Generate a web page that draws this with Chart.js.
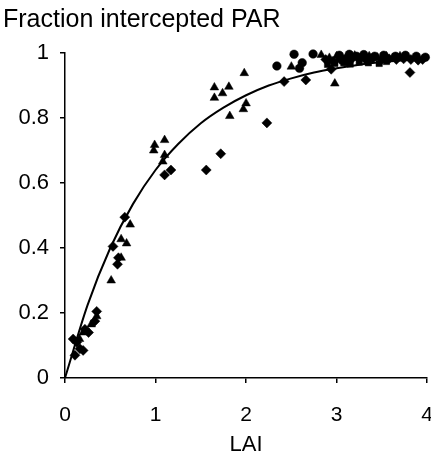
<!DOCTYPE html>
<html>
<head>
<meta charset="utf-8">
<script src="https://cdn.jsdelivr.net/npm/chart.js@4.4.0/dist/chart.umd.min.js"></script>
<style>
    html, body { margin: 0; padding: 0; background: #fff; overflow: hidden; }
    #caixa { width: 453px; height: 461px; }
</style>
</head>
<body>
<div id="caixa"><canvas id="graficoPAR"></canvas></div>
<script>

// LAI x fraction of intercepted PAR, one list per marker
const losangos = [
    [0.09, 0.12], [0.11, 0.07], [0.13, 0.11], [0.165, 0.09], [0.2, 0.085],
    [0.22, 0.15], [0.26, 0.14], [0.33, 0.175], [0.35, 0.205],
    [0.53, 0.405], [0.58, 0.35], [0.59, 0.37], [0.66, 0.495],
    [1.10, 0.625], [1.17, 0.64], [1.56, 0.64], [1.72, 0.69],
    [2.23, 0.785], [2.42, 0.912], [2.66, 0.917], [2.94, 0.95], [3.81, 0.94],
    [2.88, 0.98], [2.96, 0.975], [3.04, 0.98], [3.10, 0.983], [3.16, 0.98],
    [3.24, 0.985], [3.32, 0.98], [3.40, 0.983], [3.50, 0.98], [3.58, 0.982],
    [3.66, 0.98], [3.74, 0.982], [3.82, 0.98], [3.90, 0.978], [3.95, 0.98]
];

const triangulos = [
    [0.16, 0.12], [0.20, 0.14], [0.29, 0.165], [0.35, 0.19],
    [0.51, 0.30], [0.62, 0.37], [0.62, 0.427], [0.68, 0.414], [0.72, 0.472],
    [0.98, 0.70], [0.99, 0.717], [1.10, 0.732], [1.10, 0.686], [1.08, 0.666],
    [1.65, 0.894], [1.81, 0.896], [1.65, 0.862], [1.74, 0.876], [1.98, 0.938],
    [1.82, 0.806], [1.97, 0.827], [2.00, 0.845],
    [2.50, 0.958], [2.83, 0.994], [2.98, 0.906],
    [2.92, 0.985], [3.00, 0.99], [3.06, 0.985], [3.12, 0.99], [3.20, 0.992],
    [3.28, 0.985], [3.36, 0.99], [3.45, 0.986], [3.55, 0.99], [3.62, 0.985],
    [3.70, 0.99], [3.78, 0.988], [3.86, 0.984]
];

const circulos = [
    [2.34, 0.96], [2.53, 0.996], [2.62, 0.97], [2.59, 0.953], [2.74, 0.997],
    [3.03, 0.993], [3.14, 0.996], [3.22, 0.99], [3.30, 0.995], [3.42, 0.99],
    [3.52, 0.993], [3.65, 0.99], [3.76, 0.993], [3.88, 0.99], [3.98, 0.987]
];

const quadrados = [
    [2.90, 0.965], [2.98, 0.968], [3.08, 0.97], [3.15, 0.966],
    [3.25, 0.972], [3.35, 0.97], [3.47, 0.968], [3.55, 0.974]
];

// fitted curve
const curvaLAI = [0, 0.25, 0.5, 0.75, 1, 1.25, 1.5, 1.75, 2, 2.25, 2.5, 2.75, 3, 3.25, 3.5, 3.75, 4];
const curvaPAR = [0, 0.225, 0.40, 0.535, 0.64, 0.72, 0.784, 0.832, 0.87, 0.90, 0.922, 0.94, 0.953, 0.964, 0.972, 0.978, 0.983];

const ticksX = [0, 1, 2, 3, 4];
const ticksY = [0, 0.2, 0.4, 0.6, 0.8, 1];

const fonte = "'Liberation Sans', Arial, Helvetica, sans-serif";

function pontos(lista) {
    return lista.map(p => ({ x: p[0], y: p[1] }));
}

function serie(lista, estilo, raio) {
    return {
        type: "scatter",
        data: pontos(lista),
        clip: false,
        pointStyle: estilo,
        pointRadius: raio,
        pointBackgroundColor: "#000",
        pointBorderColor: "#000",
        pointBorderWidth: 0.5
    };
}

new Chart(
    document.getElementById("graficoPAR"),
    {
        type: "scatter",
        data: {
            datasets: [
                {
                    type: "line",
                    data: curvaLAI.map((x, i) => ({ x: x, y: curvaPAR[i] })),
                    borderColor: "#000",
                    borderWidth: 2,
                    pointRadius: 0,
                    fill: false,
                    clip: false,
                    cubicInterpolationMode: "monotone"
                },
                serie(losangos, "rectRot", 5),
                serie(triangulos, "triangle", 5),
                serie(circulos, "circle", 4.3),
                serie(quadrados, "rect", 4.5)
            ]
        },
        options: {
            responsive: true,
            maintainAspectRatio: false,
            animation: false,
            layout: {
                padding: { left: 3, right: 2, top: 0, bottom: 0 }
            },
            plugins: {
                legend: { display: false },
                tooltip: { enabled: false },
                title: {
                    display: true,
                    text: "Fraction intercepted PAR",
                    align: "start",
                    color: "#000",
                    font: { family: fonte, size: 25, weight: "normal" },
                    padding: { top: 5, bottom: 18 }
                }
            },
            scales: {
                x: {
                    type: "linear",
                    min: 0,
                    max: 4,
                    afterBuildTicks: s => { s.ticks = ticksX.map(v => ({ value: v })); },
                    afterFit: s => { s.height = 83; },
                    ticks: {
                        color: "#000",
                        font: { family: fonte, size: 21 },
                        padding: 20
                    },
                    grid: {
                        drawOnChartArea: false,
                        color: "#000",
                        lineWidth: 1.5,
                        tickLength: 5
                    },
                    border: { color: "#000", width: 1.5 },
                    title: {
                        display: true,
                        text: "LAI",
                        color: "#000",
                        font: { family: fonte, size: 22 },
                        padding: { top: 10, bottom: 3 }
                    }
                },
                y: {
                    type: "linear",
                    min: 0,
                    max: 1,
                    afterBuildTicks: s => { s.ticks = ticksY.map(v => ({ value: v })); },
                    afterFit: s => { s.width = 62; },
                    ticks: {
                        color: "#000",
                        font: { family: fonte, size: 22 },
                        padding: 11,
                        callback: v => String(Math.round(v * 10) / 10)
                    },
                    grid: {
                        drawOnChartArea: false,
                        color: "#000",
                        lineWidth: 1.5,
                        tickLength: 5
                    },
                    border: { color: "#000", width: 1.5 }
                }
            }
        }
    }
);

</script>
</body>
</html>
